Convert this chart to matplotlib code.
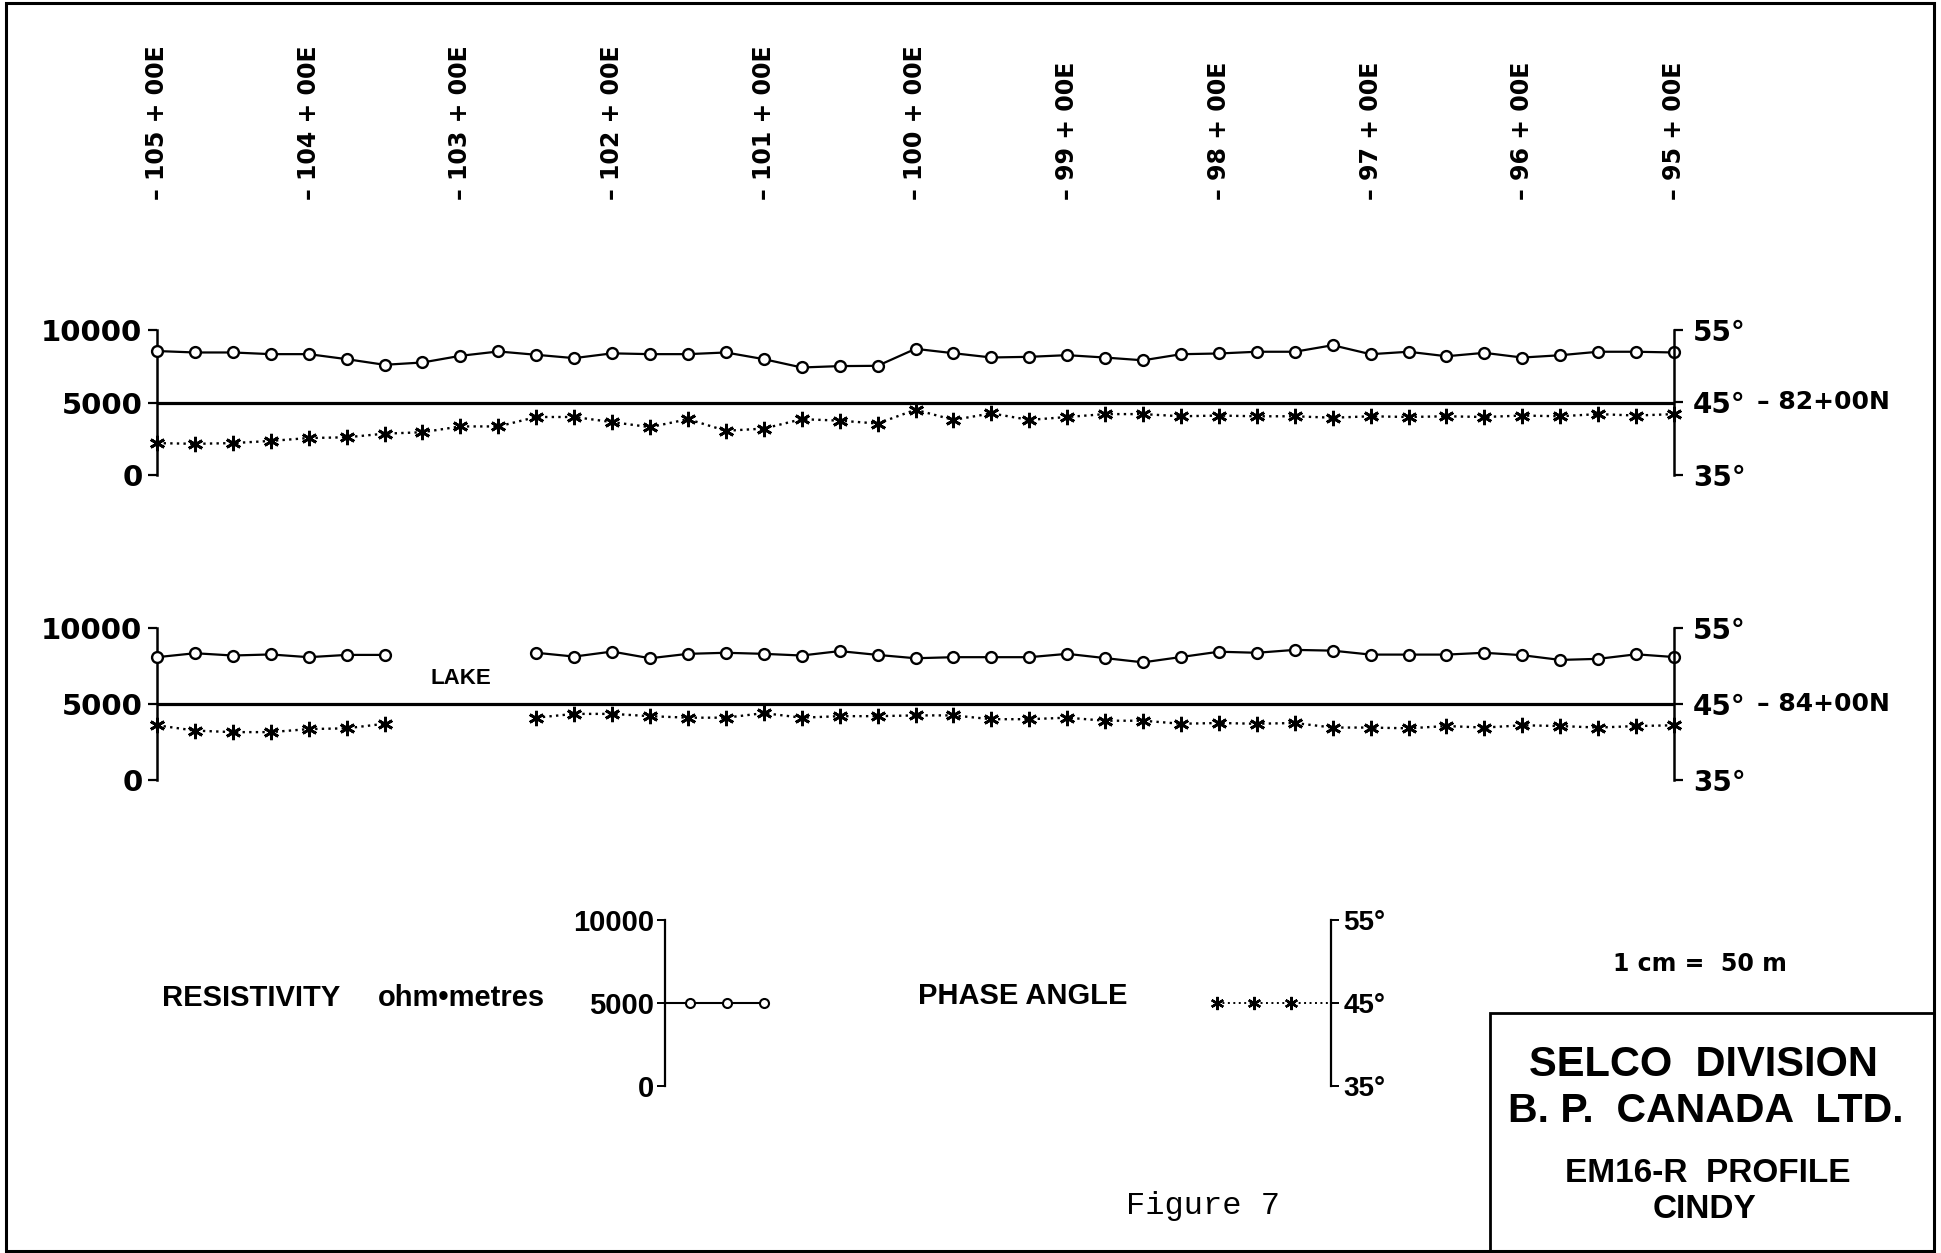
import numpy as np
import matplotlib
matplotlib.use("Agg")
import matplotlib.pyplot as plt
from matplotlib import transforms
from matplotlib.patches import Rectangle

# ---------------- data ----------------
stations = [105.00, 104.75, 104.50, 104.25, 104.00, 103.75, 103.50, 103.25,
            103.00, 102.75, 102.50, 102.25, 102.00, 101.75, 101.50, 101.25,
            101.00, 100.75, 100.50, 100.25, 100.00, 99.75, 99.50, 99.25,
            99.00, 98.75, 98.50, 98.25, 98.00, 97.75, 97.50, 97.25,
            97.00, 96.75, 96.50, 96.25, 96.00, 95.75, 95.50, 95.25, 95.00]

station_ticks = [105, 104, 103, 102, 101, 100, 99, 98, 97, 96, 95]
station_labels = ["105 + 00E", "104 + 00E", "103 + 00E", "102 + 00E",
                  "101 + 00E", "100 + 00E", "99 + 00E", "98 + 00E",
                  "97 + 00E", "96 + 00E", "95 + 00E"]

# line 82+00N
res_82 = [8550, 8450, 8450, 8335, 8335, 7990, 7600, 7760, 8220, 8520,
          8290, 8060, 8390, 8335, 8335, 8450, 7990, 7415, 7510, 7530,
          8700, 8400, 8105, 8150, 8265, 8100, 7910, 8330, 8380, 8500,
          8500, 8950, 8330, 8500, 8190, 8425, 8100, 8260, 8500, 8500, 8450]
phase_82 = [39.4, 39.3, 39.4, 39.7, 40.1, 40.2, 40.7, 40.9, 41.7, 41.7,
            43.0, 43.0, 42.3, 41.6, 42.7, 41.1, 41.4, 42.7, 42.5, 42.1,
            44.0, 42.6, 43.5, 42.6, 43.0, 43.4, 43.4, 43.1, 43.2, 43.1,
            43.1, 42.9, 43.1, 43.0, 43.1, 43.0, 43.2, 43.1, 43.4, 43.2, 43.4]

# line 84+00N (gap = lake)
nan = float("nan")
res_84 = [8080, 8340, 8190, 8260, 8080, 8230, 8230, nan, nan, nan,
          8370, 8120, 8450, 8010, 8300, 8370, 8300, 8190, 8480, 8230,
          8010, 8080, 8080, 8080, 8300, 8020, 7740, 8090, 8440, 8370,
          8560, 8510, 8250, 8250, 8250, 8370, 8210, 7900, 7970, 8270, 8090]
phase_84 = [42.2, 41.5, 41.3, 41.3, 41.7, 41.8, 42.4, nan, nan, nan,
            43.2, 43.7, 43.7, 43.4, 43.2, 43.2, 43.8, 43.2, 43.4, 43.4,
            43.5, 43.5, 43.0, 43.0, 43.2, 42.8, 42.8, 42.4, 42.5, 42.4,
            42.5, 41.9, 41.9, 41.8, 42.1, 41.9, 42.2, 42.1, 41.9, 42.1, 42.2]

res_ticks = [0, 5000, 10000]
res_ticklabels = ["0", "5000", "10000"]
phase_ticks = [35, 45, 55]
phase_ticklabels = ["35°", "45°", "55°"]

legend_x = [1, 2, 3]
legend_res = [5000, 5000, 5000]
legend_phase = [45, 45, 45]

# ---------------- figure ----------------
W, H, DPI = 1941, 1253, 100
fig = plt.figure(figsize=(W / DPI, H / DPI), dpi=DPI)
fig.patch.set_facecolor("white")

NUMFONT = "DejaVu Sans"
LBLFONT = "Liberation Sans"


def px_axes(left, top, right, bottom):
    return fig.add_axes([left / W, 1 - bottom / H, (right - left) / W, (bottom - top) / H])


def ptext(x, y, s, **kw):
    return fig.text(x / W, 1 - y / H, s, **kw)


def style_ticklabels(ax_, family, size):
    for lab in ax_.get_yticklabels():
        lab.set_fontfamily(family)
        lab.set_fontweight("bold")
        lab.set_fontsize(size)


def panel(top, bottom, res, phase, line_label):
    ax = px_axes(157, top, 1674, bottom)
    ax.set_xlim(stations[0], stations[-1])
    ax.set_ylim(0, 10000)
    ax.patch.set_alpha(0)
    for s in ["top", "bottom", "right"]:
        ax.spines[s].set_visible(False)
    ax.spines["left"].set_linewidth(1.8)
    ax.set_xticks([])
    ax.set_yticks(res_ticks, res_ticklabels)
    ax.tick_params(axis="y", direction="out", length=6.5, width=1.6, pad=4)
    style_ticklabels(ax, NUMFONT, 21)
    ax.axhline(5000, color="black", lw=2.3, zorder=2)

    ax2 = ax.twinx()
    ax2.set_ylim(35, 55)
    for s in ["top", "bottom", "left"]:
        ax2.spines[s].set_visible(False)
    ax2.spines["right"].set_linewidth(1.8)
    ax2.set_yticks(phase_ticks, phase_ticklabels)
    ax2.tick_params(axis="y", direction="out", length=6.5, width=1.6, pad=7)
    style_ticklabels(ax2, NUMFONT, 20)

    ax.plot(stations, res, "-", color="black", lw=1.6, marker="o", ms=7.8,
            mfc="white", mec="black", mew=1.7, clip_on=False, zorder=4)
    ax2.plot(stations, phase, linestyle=(0, (1, 1.8)), color="black", lw=1.7,
             marker=(6, 2, 0), ms=11, mew=2.0, mec="black", clip_on=False, zorder=4)

    tr = transforms.blended_transform_factory(fig.transFigure, ax.transData)
    fig.text(1757 / W, 5000, "– " + line_label, transform=tr, ha="left",
             va="center", fontsize=18, fontweight="bold", family=NUMFONT)
    return ax, ax2


ax_top, _ = panel(330, 475, res_82, phase_82, "82+00N")
ax_bot, _ = panel(628, 780, res_84, phase_84, "84+00N")

# station labels along the top
trs = transforms.blended_transform_factory(ax_top.transData, fig.transFigure)
for s, lab in zip(station_ticks, station_labels):
    fig.text(s, 1 - 200 / H, "– " + lab, transform=trs, rotation=90,
             ha="center", va="bottom", fontsize=17, fontweight="bold", family=NUMFONT)

# LAKE label
ax_bot.text(103.0, 6700, "LAKE", ha="center", va="center", fontsize=16,
            fontweight="bold", family=LBLFONT)

# ---------------- legend ----------------
ptext(162, 998, "RESISTIVITY", ha="left", va="center", fontsize=21,
      fontweight="bold", family=LBLFONT)
ptext(378, 998, "ohm\u2022metres", ha="left", va="center", fontsize=21,
      fontweight="bold", family=LBLFONT)
ptext(918, 996, "PHASE ANGLE", ha="left", va="center", fontsize=21,
      fontweight="bold", family=LBLFONT)

lr = px_axes(665, 920, 775, 1086)
lr.set_xlim(0.32, 3.30)
lr.set_ylim(0, 10000)
lr.patch.set_alpha(0)
for s in ["top", "bottom", "right"]:
    lr.spines[s].set_visible(False)
lr.spines["left"].set_linewidth(1.6)
lr.set_xticks([])
lr.set_yticks(res_ticks, res_ticklabels)
lr.tick_params(axis="y", direction="out", length=6, width=1.4, pad=2)
style_ticklabels(lr, LBLFONT, 21)
lr.plot([lr.get_xlim()[0]] + legend_x, [legend_res[0]] + legend_res, "-",
        color="black", lw=1.5, clip_on=False)
lr.plot(legend_x, legend_res, "o", ms=6.5, mfc="white", mec="black", mew=1.5,
        clip_on=False, zorder=4)

lp = px_axes(1195, 920, 1331, 1086)
lp.set_xlim(0.405, 4.08)
lp.set_ylim(35, 55)
lp.patch.set_alpha(0)
for s in ["top", "bottom", "left"]:
    lp.spines[s].set_visible(False)
lp.spines["right"].set_linewidth(1.6)
lp.yaxis.tick_right()
lp.set_xticks([])
lp.set_yticks(phase_ticks, phase_ticklabels)
lp.tick_params(axis="y", direction="out", length=6, width=1.4, pad=3)
style_ticklabels(lp, LBLFONT, 20)
lp.plot(legend_x + [lp.get_xlim()[1]], legend_phase + [legend_phase[0]],
        linestyle=(0, (1, 1.8)), color="black", lw=1.4, clip_on=False)
lp.plot(legend_x, legend_phase, linestyle="none", marker=(6, 2, 0), ms=9.5,
        mew=1.7, mec="black", clip_on=False, zorder=4)

# scale note
ptext(1700, 964, "1 cm =  50 m", ha="center", va="center", fontsize=17,
      fontweight="bold", family=NUMFONT)

# ---------------- title block & frame ----------------
fig.add_artist(Rectangle((6 / W, 1 - 1251 / H), (1934 - 6) / W, (1251 - 3) / H,
                         transform=fig.transFigure, fill=False, lw=2.2, ec="black"))
fig.add_artist(Rectangle((1490 / W, 1 - 1251 / H), (1934 - 1490) / W, (1251 - 1013) / H,
                         transform=fig.transFigure, fill=False, lw=2.0, ec="black"))

ptext(1703, 1065, "SELCO  DIVISION", ha="center", va="center", fontsize=30,
      fontweight="bold", family=LBLFONT)
ptext(1706, 1111, "B. P.  CANADA  LTD.", ha="center", va="center", fontsize=29.5,
      fontweight="bold", family=LBLFONT)
ptext(1708, 1173, "EM16-R  PROFILE", ha="center", va="center", fontsize=24,
      fontweight="bold", family=LBLFONT)
ptext(1704, 1210, "CINDY", ha="center", va="center", fontsize=24,
      fontweight="bold", family=LBLFONT)

ptext(1203, 1206, "Figure 7", ha="center", va="center", fontsize=23,
      family="Liberation Mono")

fig.savefig("out.png", dpi=DPI, facecolor="white")
